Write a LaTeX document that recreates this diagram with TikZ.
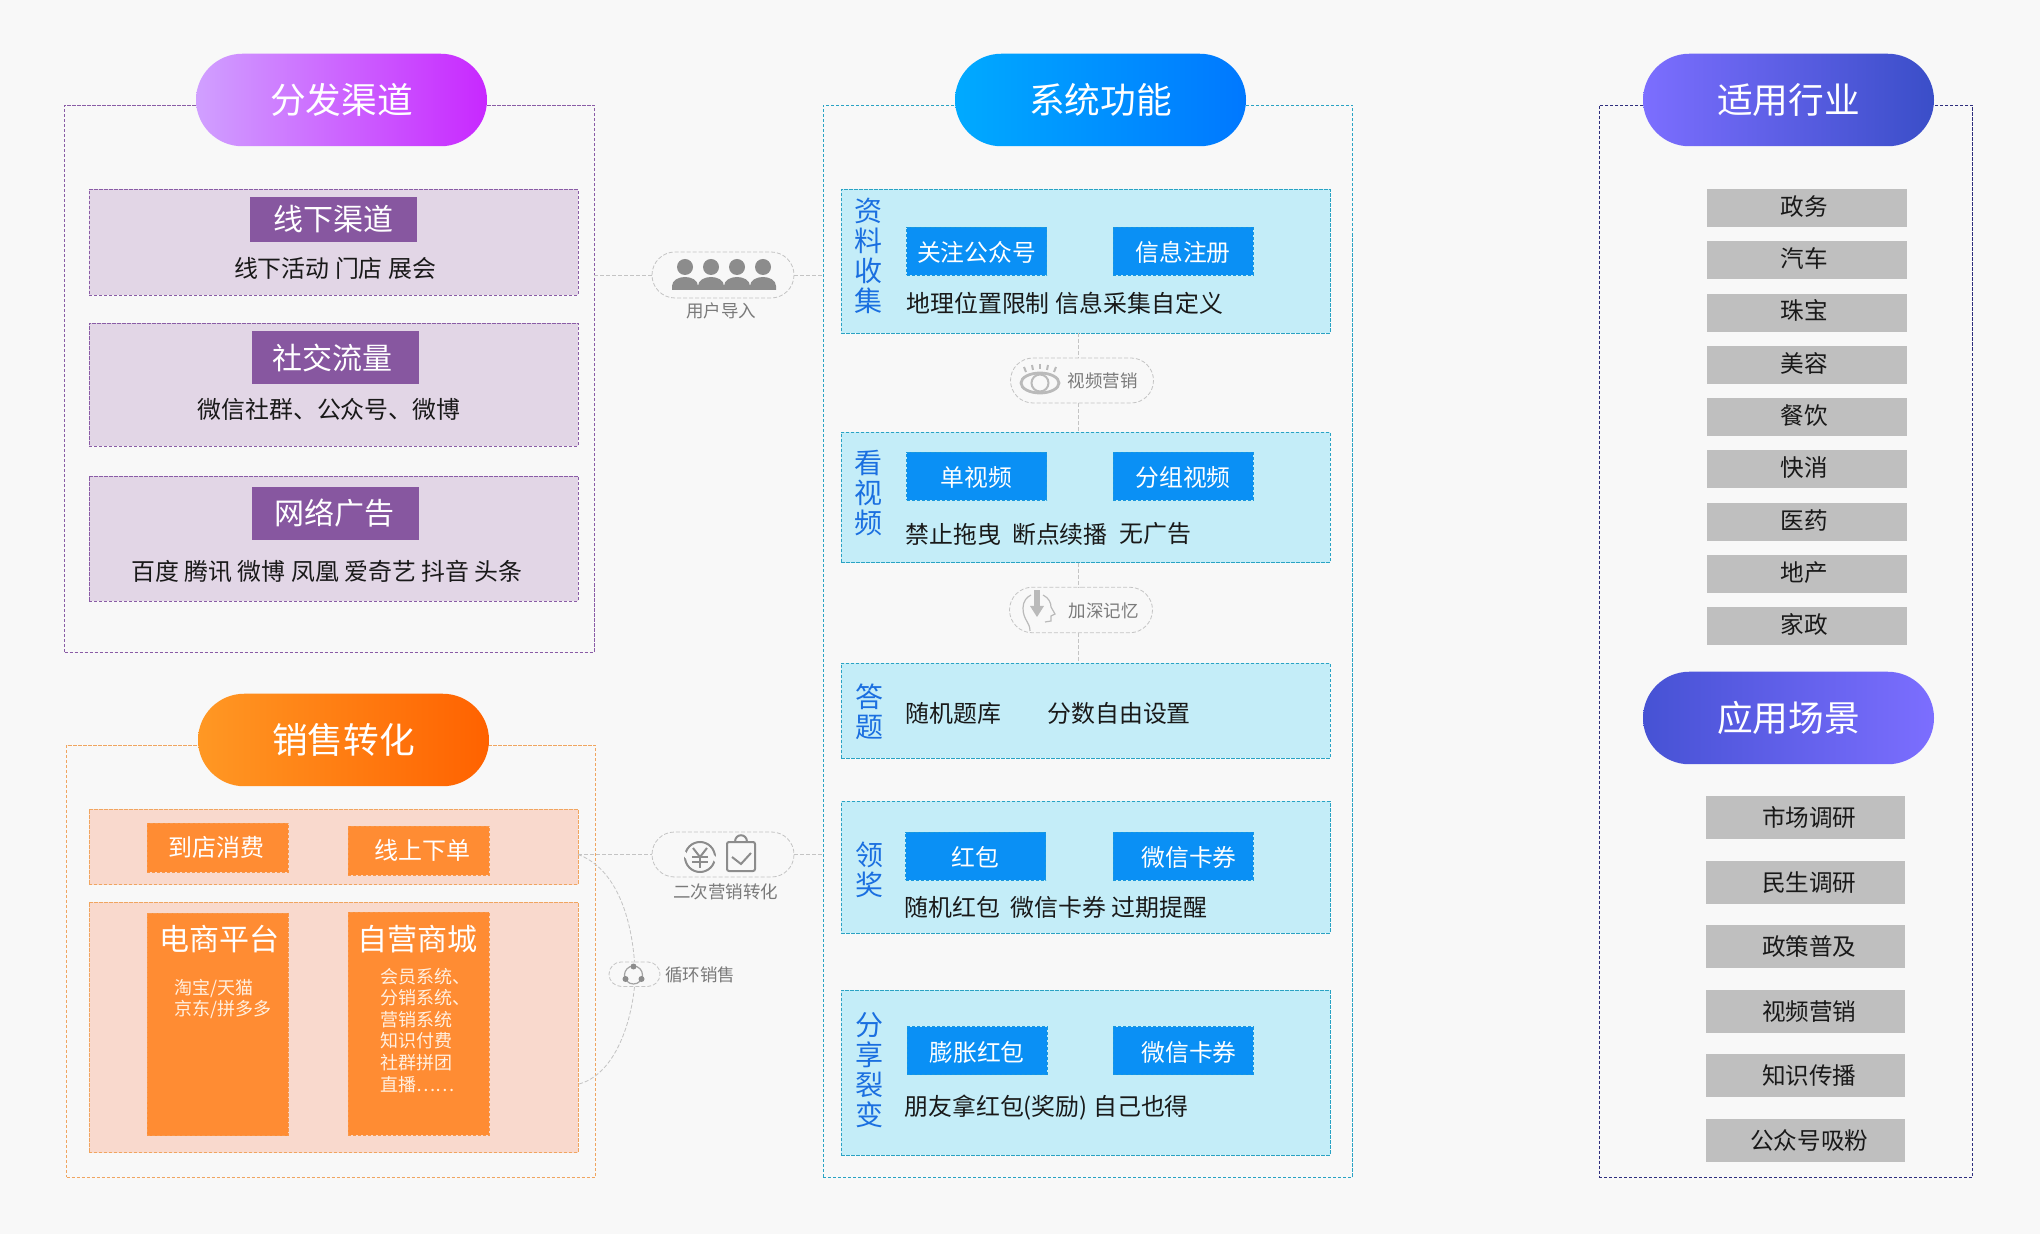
\documentclass[tikz,border=0pt]{standalone}
\usepackage{fontspec}
\setmainfont{Noto Sans CJK SC}
\usetikzlibrary{positioning,shapes.misc}
\definecolor{PageBg}{HTML}{F8F8F8}
\definecolor{PurpleLine}{HTML}{8A5CA6}
\definecolor{PurpleFill}{HTML}{E2D6E6}
\definecolor{PurpleHead}{HTML}{8757A0}
\definecolor{OrangeLine}{HTML}{F0A560}
\definecolor{OrangeFill}{HTML}{F9D9CD}
\definecolor{OrangeHead}{HTML}{FF8C33}
\definecolor{BlueLine}{HTML}{2AA3C4}
\definecolor{BlueFill}{HTML}{C4EDF8}
\definecolor{BlueHead}{HTML}{0A90F5}
\definecolor{BlueText}{HTML}{1A6FE0}
\definecolor{NavyLine}{HTML}{2E2E7E}
\definecolor{GreyFill}{HTML}{BFBFBF}
\definecolor{LinkGrey}{HTML}{C4C4C4}
\definecolor{IconGrey}{HTML}{8C8C8C}
\definecolor{CapGrey}{HTML}{7A7A7A}
\begin{document}
\begin{tikzpicture}[x = 0.5pt, y = -0.5pt]
        \tikzset{wh/.style 2 args = {minimum width = #1*0.5pt,
            minimum height = #2*0.5pt},
            BoxStyle/.style = {rectangle,
            inner sep = 0pt,
            outer sep = 0pt},
            FrameStyle/.style = {BoxStyle, draw,
            line width = 0.4pt,
            dash pattern = on 1.6pt off 0.9pt},
            PillStyle/.style = {rounded rectangle,
            inner sep = 0pt,
            minimum width = 145.5pt,
            minimum height = 46.25pt,
            text = white,
            font = \fontsize{17.85}{21}\selectfont},
            HeadStyle/.style = {BoxStyle,
            text = white,
            font = \fontsize{15}{18}\selectfont},
            ButtonStyle/.style = {FrameStyle,
            draw = BlueLine!50!BlueHead,
            fill = BlueHead,
            text = white,
            text height = 11.6pt,
            minimum width = 70pt,
            minimum height = 24pt,
            font = \fontsize{11.9}{15}\selectfont},
            OrangeStyle/.style = {FrameStyle,
            draw = OrangeLine!50!OrangeHead,
            fill = OrangeHead,
            text = white},
            TextStyle/.style = {inner sep = 0pt,
            text = black!90,
            font = \fontsize{11.95}{15}\selectfont},
            SideStyle/.style = {inner sep = 0pt,
            text = BlueText,
            align = center,
            font = \fontsize{14}{15}\selectfont},
            GreyStyle/.style = {BoxStyle,
            fill = GreyFill,
            text = black!90,
            font = \fontsize{11.8}{15}\selectfont},
            TopGrey/.style = {GreyStyle,
            wh = {200}{38},
            text depth = 2.6pt,
            execute at begin node = {\hspace*{-2.6pt}}},
            LowGrey/.style = {GreyStyle,
            wh = {199.5}{43},
            execute at begin node = {\hspace*{4pt}}},
            CapsuleStyle/.style = {rounded rectangle,
            draw = LinkGrey,
            line width = 0.4pt,
            dash pattern = on 2pt off 1pt,
            inner sep = 0pt},
            CaptionStyle/.style = {inner sep = 0pt,
            text = CapGrey,
            font = \fontsize{8.75}{11}\selectfont},
            MiniStyle/.style = {inner sep = 0pt,
            text = white!88!orange,
            align = left,
            font = \fontsize{9}{10.8}\selectfont},
            EdgeStyle/.style = {draw = LinkGrey,
            line width = 0.4pt,
            dash pattern = on 2pt off 1pt},
            IconStyle/.style = {draw = IconGrey,
            line width = 1pt}}
        \fill[PageBg] (0,0) rectangle (2040,1234);
        \useasboundingbox (0,0) rectangle (2040,1234);
        \node[FrameStyle, draw = PurpleLine, wh = {529.5}{547}] (PF) at (329.25,378.5) {};
        \node[FrameStyle, draw = OrangeLine, wh = {529}{432}] (OF) at (331,961) {};
        \node[FrameStyle, draw = BlueLine, wh = {529.5}{1072}] (SF) at (1087.75,641) {};
        \node[FrameStyle, draw = NavyLine, wh = {373.7}{1072}] (RF) at (1785.85,641) {};
        \node[PillStyle, left color = {rgb,255:red,208;green,160;blue,255},
            right color = {rgb,255:red,200;green,40;blue,255}] (FF) at (341.5,100) {分发渠道};
        \node[PillStyle, left color = {rgb,255:red,255;green,152;blue,36},
            right color = {rgb,255:red,255;green,98;blue,0}] (XS) at (343.5,740) {销售转化};
        \node[PillStyle, left color = {rgb,255:red,0;green,170;blue,255},
            right color = {rgb,255:red,0;green,120;blue,255}] (XT) at (1100.5,100) {系统功能};
        \node[PillStyle, left color = {rgb,255:red,124;green,110;blue,255},
            right color = {rgb,255:red,58;green,78;blue,200}] (SY) at (1788.5,100) {适用行业};
        \node[PillStyle, left color = {rgb,255:red,70;green,82;blue,212},
            right color = {rgb,255:red,124;green,110;blue,255}] (YC) at (1788.5,718) {应用场景};
        \node[FrameStyle, draw = PurpleLine, fill = PurpleFill, wh = {489}{105.5}] (PA) at (333.5,242.25) {};
        \node[FrameStyle, draw = PurpleLine, fill = PurpleFill, wh = {489}{123.5}] (PB) at (333.5,384.75) {};
        \node[FrameStyle, draw = PurpleLine, fill = PurpleFill, wh = {489}{125.5}] (PC) at (333.5,538.75) {};
        \node[HeadStyle, fill = PurpleHead, wh = {167}{45}] (HA) at (333.5,219.5) {线下渠道};
        \node[HeadStyle, fill = PurpleHead, wh = {167}{53}] (HB) at (335.5,357.5) {\hspace*{-3.4pt}社交流量};
        \node[HeadStyle, fill = PurpleHead, wh = {167}{53}] (HC) at (335.5,513.5) {\hspace*{-0.7pt}网络广告};
        \node[TextStyle] (TA) at (335,268) {线下活动 门店 展会};
        \node[TextStyle] (TB) at (329,409) {微信社群、公众号、微博};
        \node[TextStyle] (TC) at (327,572) {百度 腾讯 微博 凤凰 爱奇艺 抖音 头条};
        \node[FrameStyle, draw = OrangeLine, fill = OrangeFill, wh = {489}{75.5}] (OA) at (333.5,846.75) {};
        \node[FrameStyle, draw = OrangeLine, fill = OrangeFill, wh = {489}{250.5}] (OB) at (333.5,1027.25) {};
        \node[OrangeStyle, wh = {141}{49}, font = \fontsize{12}{15}\selectfont] (DD) at (217.5,847.5) {\hspace*{-1pt}到店消费};
        \node[OrangeStyle, wh = {141}{49}, font = \fontsize{12}{15}\selectfont] (XX) at (418.5,850.5) {\hspace*{3.5pt}线上下单};
        \node[OrangeStyle, wh = {141}{222.5}] (DS) at (217.5,1024.25) {};
        \node[OrangeStyle, wh = {141}{223}] (ZY) at (418.5,1023.5) {};
        \node[HeadStyle] (DT) at (219.5,939) {电商平台};
        \node[HeadStyle] (ZT) at (417.5,939) {自营商城};
        \node[MiniStyle, anchor = north west] (DM) at (174,978.5) {淘宝/天猫\\京东/拼多多};
        \node[MiniStyle, anchor = north west] (ZM) at (380,967.5) {会员系统、\\分销系统、\\营销系统\\知识付费\\社群拼团\\直播……};
        \node[FrameStyle, draw = BlueLine, fill = BlueFill, wh = {488.6}{144}] (BA) at (1085.7,261) {};
        \node[FrameStyle, draw = BlueLine, fill = BlueFill, wh = {488.6}{130.7}] (BB) at (1085.7,497.35) {};
        \node[FrameStyle, draw = BlueLine, fill = BlueFill, wh = {488.6}{95.5}] (BC) at (1085.7,710.75) {};
        \node[FrameStyle, draw = BlueLine, fill = BlueFill, wh = {488.6}{131.5}] (BD) at (1085.7,867.25) {};
        \node[FrameStyle, draw = BlueLine, fill = BlueFill, wh = {488.6}{165}] (BE) at (1085.7,1072.5) {};
        \node[SideStyle] (SA) at (868,256) {资\\料\\收\\集};
        \node[SideStyle] (SB) at (868,493) {看\\视\\频};
        \node[SideStyle] (SC) at (869,712) {答\\题};
        \node[SideStyle] (SD) at (869,870) {领\\奖};
        \node[SideStyle] (SE) at (869,1070) {分\\享\\裂\\变};
        \node[ButtonStyle] (GZ) at (976.5,251) {关注公众号};
        \node[ButtonStyle] (XZ) at (1183,251) {信息注册};
        \node[ButtonStyle] (DV) at (976.5,476) {单视频};
        \node[ButtonStyle] (FV) at (1183,476) {分组视频};
        \node[ButtonStyle] (HB1) at (975.5,856) {红包};
        \node[ButtonStyle] (WK1) at (1183,856) {\hspace*{6pt}微信卡券};
        \node[ButtonStyle] (PZ) at (977,1050.75) {膨胀红包};
        \node[ButtonStyle] (WK2) at (1183,1050.75) {\hspace*{6pt}微信卡券};
        \node[TextStyle, anchor = west] (LA) at (906,303) {地理位置限制};
        \node[TextStyle, anchor = west] (LB) at (1055.5,303) {信息采集自定义};
        \node[TextStyle, anchor = west] (LC) at (905.5,534) {禁止拖曳};
        \node[TextStyle, anchor = west] (LD) at (1011.7,534) {断点续播};
        \node[TextStyle, anchor = west] (LE) at (1119,534) {无广告};
        \node[TextStyle, anchor = west] (LF) at (905.5,713) {随机题库};
        \node[TextStyle, anchor = west] (LG) at (1047,713) {分数自由设置};
        \node[TextStyle, anchor = west] (LH) at (904,907) {随机红包};
        \node[TextStyle, anchor = west] (LI) at (1010,907) {微信卡券};
        \node[TextStyle, anchor = west] (LJ) at (1111,907) {过期提醒};
        \node[TextStyle, anchor = west] (LK) at (904,1108) {朋友拿红包(奖励) 自己也得};
        \node[TopGrey] (ZW) at (1807,208) {政务};
        \node[TopGrey, below = 7.15pt of ZW] (QC) {汽车};
        \node[TopGrey, below = 7.15pt of QC] (ZB) {珠宝};
        \node[TopGrey, below = 7.15pt of ZB] (MR) {美容};
        \node[TopGrey, below = 7.15pt of MR] (CY) {餐饮};
        \node[TopGrey, below = 7.15pt of CY] (KX) {快消};
        \node[TopGrey, below = 7.15pt of KX] (YY) {医药};
        \node[TopGrey, below = 7.15pt of YY] (DC) {地产};
        \node[TopGrey, below = 7.15pt of DC] (JZ) {家政};
        \node[LowGrey] (SC1) at (1805.25,817.5) {市场调研};
        \node[LowGrey, below = 10.8pt of SC1] (MS) {民生调研};
        \node[LowGrey, below = 10.8pt of MS] (ZC) {政策普及};
        \node[LowGrey, below = 10.8pt of ZC] (SP1) {视频营销};
        \node[LowGrey, below = 10.8pt of SP1] (ZS) {知识传播};
        \node[LowGrey, below = 10.8pt of ZS] (GG) {公众号吸粉};
        \node[CapsuleStyle, wh = {142}{46}] (YH) at (723,275) {};
        \node[CapsuleStyle, wh = {142}{45}] (EC) at (723,854.5) {};
        \node[CapsuleStyle, wh = {51}{24.5}] (XH) at (634.5,974.2) {};
        \node[CapsuleStyle, wh = {143}{45}] (SP) at (1082,380.5) {};
        \node[CapsuleStyle, wh = {143}{45.5}] (JS) at (1081,610) {};
        \node[CaptionStyle] (YHT) at (721,311) {用户导入};
        \node[CaptionStyle] (ECT) at (725.7,892) {二次营销转化};
        \node[CaptionStyle] (XHT) at (700,975) {循环销售};
        \node[CaptionStyle] (SPT) at (1102.6,381) {视频营销};
        \node[CaptionStyle] (JST) at (1103.8,611) {加深记忆};
        \coordinate (LKA) at (1078.6,345);
        \coordinate (OE) at (579,1084);
        \draw[EdgeStyle] (PF.east |- YH.west) -- (YH.west);
        \draw[EdgeStyle] (YH.east) -- (YH.east -| SF.west);
        \draw[EdgeStyle] (OA.east |- EC.west) -- (EC.west);
        \draw[EdgeStyle] (EC.east) -- (EC.east -| SF.west);
        \draw[EdgeStyle] (BA.south -| LKA) -- (SP.north -| LKA);
        \draw[EdgeStyle] (SP.south -| LKA) -- (BB.north -| LKA);
        \draw[EdgeStyle] (BB.south -| LKA) -- (JS.north -| LKA);
        \draw[EdgeStyle] (JS.south -| LKA) -- (BC.north -| LKA);
        \draw[EdgeStyle] (OA.east |- EC.west) .. controls (610,866) and (630,905) .. (XH.north);
        \draw[EdgeStyle] (XH.south) .. controls (630,1030) and (612,1075) .. (OE);
        \fill[IconGrey] (685,267) circle (8);
        \fill[IconGrey] (711,267) circle (8);
        \fill[IconGrey] (737,267) circle (8);
        \fill[IconGrey] (763,267) circle (8);
        \fill[IconGrey] (672,290) -- (672,286) .. controls (672,280) and (679,277) .. (685,277) .. controls (691,277) and (698,280) .. (698,286) -- (698,290) -- cycle;
        \fill[IconGrey] (698,290) -- (698,286) .. controls (698,280) and (705,277) .. (711,277) .. controls (717,277) and (724,280) .. (724,286) -- (724,290) -- cycle;
        \fill[IconGrey] (724,290) -- (724,286) .. controls (724,280) and (731,277) .. (737,277) .. controls (743,277) and (750,280) .. (750,286) -- (750,290) -- cycle;
        \fill[IconGrey] (750,290) -- (750,286) .. controls (750,280) and (757,277) .. (763,277) .. controls (769,277) and (776,280) .. (776,286) -- (776,290) -- cycle;
        \draw[IconStyle, draw = IconGrey!60, line width = 1.4pt] (1040,383) ellipse (19 and 10);
        \draw[IconStyle, draw = IconGrey!60] (1040,383) circle (8.5);
        \draw[IconStyle, draw = IconGrey!60] (1024,367) -- (1026,372);
        \draw[IconStyle, draw = IconGrey!60] (1032,365) -- (1033,370);
        \draw[IconStyle, draw = IconGrey!60] (1040,364) -- (1040,369);
        \draw[IconStyle, draw = IconGrey!60] (1048,365) -- (1047,370);
        \draw[IconStyle, draw = IconGrey!60] (1056,367) -- (1054,372);
        \draw[IconStyle, draw = IconGrey!60, line width = 0.6pt] (1030,631) .. controls (1030,622) and (1023,620) .. (1023,608) .. controls (1023,601) and (1027,597) .. (1031,595);
        \draw[IconStyle, draw = IconGrey!60, line width = 0.6pt] (1043,595) .. controls (1049,598) and (1051,603) .. (1051,607) -- (1055,614) -- (1051,616) -- (1051,621) -- (1045,622);
        \fill[IconGrey!60] (1034,590) rectangle (1040,606);
        \fill[IconGrey!60] (1030,606) -- (1044,606) -- (1037,617) -- cycle;
        \draw[IconStyle] (700,857) circle (15);
        \draw[PageBg, line width = 2pt] (683,852) -- (688,858);
        \draw[PageBg, line width = 2pt] (712,856) -- (718,862);
        \draw[IconStyle] (693,848) -- (700,857) -- (707,848);
        \draw[IconStyle] (700,857) -- (700,868);
        \draw[IconStyle] (692,857) -- (708,857);
        \draw[IconStyle] (692,862) -- (708,862);
        \draw[IconStyle, rounded corners = 1pt] (727,842) rectangle (755,871);
        \draw[IconStyle] (735,842) .. controls (735,833) and (747,833) .. (747,842);
        \draw[IconStyle] (732,857) -- (741,864) -- (751,853);
        \draw[IconStyle, draw = IconGrey!80, line width = 0.6pt] (633.5,975) circle (9);
        \fill[IconGrey] (633.5,966.5) circle (3);
        \fill[IconGrey] (625.5,979) circle (3);
        \fill[IconGrey] (641.5,979) circle (3);
\end{tikzpicture}
\end{document}
